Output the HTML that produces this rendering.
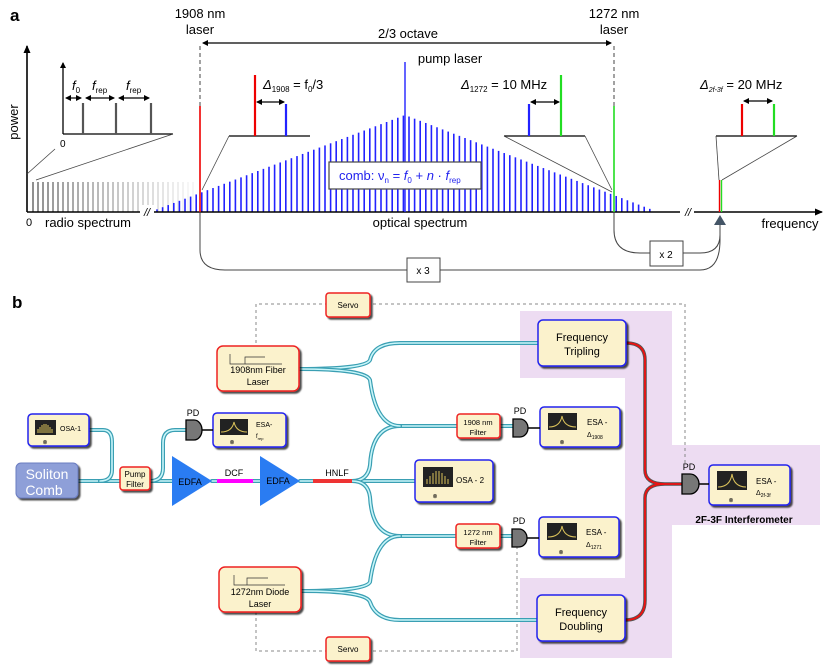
<!DOCTYPE html>
<html><head><meta charset="utf-8"><style>
body{margin:0;background:#fff}
svg{display:block;font-family:"Liberation Sans",sans-serif}
</style></head><body>
<svg id="s" width="830" height="668" viewBox="0 0 830 668" xmlns="http://www.w3.org/2000/svg">
<defs>
<marker id="ah" markerWidth="8" markerHeight="8" refX="7" refY="4" orient="auto" markerUnits="userSpaceOnUse"><path d="M0,0.5 L8,4 L0,7.5z" fill="#000"/></marker>
<marker id="ahs" markerWidth="6" markerHeight="6" refX="5" refY="3" orient="auto-start-reverse" markerUnits="userSpaceOnUse"><path d="M0,0 L6,3 L0,6z" fill="#000"/></marker>
<filter id="sh" x="-10%" y="-10%" width="130%" height="140%"><feDropShadow dx="2" dy="2" stdDeviation="0.8" flood-color="#000" flood-opacity="0.7"/></filter>
</defs>
<text x="10" y="21" font-size="17" font-weight="bold">a</text>
<g id="combs"></g>
<line x1="27" y1="212" x2="822" y2="212" stroke="#000" stroke-width="1.6" marker-end="url(#ah)"/>
<line x1="27" y1="212" x2="27" y2="46" stroke="#000" stroke-width="1.6" marker-end="url(#ah)"/>
<rect x="140" y="205" width="14" height="14" fill="#fff"/>
<text x="147" y="216" font-size="11" text-anchor="middle" font-style="italic">//</text>
<rect x="680" y="205" width="14" height="14" fill="#fff"/>
<text x="688" y="216" font-size="11" text-anchor="middle" font-style="italic">//</text>
<text transform="translate(18,122) rotate(-90)" font-size="13" text-anchor="middle">power</text>
<text x="26" y="226" font-size="11">0</text>
<text x="88" y="227" font-size="13" text-anchor="middle">radio spectrum</text>
<text x="420" y="227" font-size="13" text-anchor="middle">optical spectrum</text>
<text x="790" y="228" font-size="13" text-anchor="middle">frequency</text>
<line x1="200" y1="46" x2="200" y2="106" stroke="#444" stroke-width="1" stroke-dasharray="4,3"/>
<line x1="614" y1="46" x2="614" y2="106" stroke="#444" stroke-width="1" stroke-dasharray="4,3"/>
<line x1="200" y1="106" x2="200" y2="212" stroke="#e00" stroke-width="1.6"/>
<line x1="614" y1="106" x2="614" y2="212" stroke="#2d2" stroke-width="1.6"/>
<line x1="405" y1="62" x2="405" y2="212" stroke="#22f" stroke-width="1.4"/>
<line x1="203" y1="43" x2="611" y2="43" stroke="#000" stroke-width="1.3" marker-start="url(#ahs)" marker-end="url(#ahs)"/>
<text x="408" y="38" font-size="13" text-anchor="middle">2/3 octave</text>
<text x="200" y="18" font-size="13" text-anchor="middle">1908 nm</text>
<text x="200" y="34" font-size="13" text-anchor="middle">laser</text>
<text x="614" y="18" font-size="13" text-anchor="middle">1272 nm</text>
<text x="614" y="34" font-size="13" text-anchor="middle">laser</text>
<text x="450" y="63" font-size="13" text-anchor="middle">pump laser</text>
<line x1="63" y1="134" x2="63" y2="63" stroke="#000" stroke-width="1.3" marker-end="url(#ahs)"/>
<line x1="63" y1="134" x2="173" y2="134" stroke="#000" stroke-width="1.3"/>
<g stroke="#555" stroke-width="2.2"><line x1="83" y1="103" x2="83" y2="134"/><line x1="116" y1="103" x2="116" y2="134"/><line x1="151" y1="103" x2="151" y2="134"/></g>
<g stroke="#000" stroke-width="1.2"><line x1="66" y1="98" x2="81" y2="98" marker-start="url(#ahs)" marker-end="url(#ahs)"/><line x1="86" y1="98" x2="114" y2="98" marker-start="url(#ahs)" marker-end="url(#ahs)"/><line x1="119" y1="98" x2="149" y2="98" marker-start="url(#ahs)" marker-end="url(#ahs)"/></g>
<text x="72" y="90" font-size="13" font-style="italic">f<tspan font-size="8" font-style="normal" dy="3">0</tspan></text>
<text x="92" y="90" font-size="13" font-style="italic">f<tspan font-size="8" font-style="normal" dy="3">rep</tspan></text>
<text x="126" y="90" font-size="13" font-style="italic">f<tspan font-size="8" font-style="normal" dy="3">rep</tspan></text>
<text x="60" y="147" font-size="10">0</text>
<line x1="27" y1="174" x2="55" y2="149" stroke="#444" stroke-width="0.8"/>
<line x1="36" y1="180" x2="173" y2="134" stroke="#444" stroke-width="0.8"/>
<line x1="229" y1="136" x2="310" y2="136" stroke="#000" stroke-width="1.3"/>
<line x1="255" y1="75" x2="255" y2="136" stroke="#e00" stroke-width="2.2"/>
<line x1="286" y1="104" x2="286" y2="136" stroke="#22f" stroke-width="2.2"/>
<line x1="257" y1="102" x2="284" y2="102" stroke="#000" stroke-width="1.3" marker-start="url(#ahs)" marker-end="url(#ahs)"/>
<text x="263" y="89" font-size="13"><tspan font-style="italic">Δ</tspan><tspan font-size="8" dy="3">1908</tspan><tspan dy="-3"> = f</tspan><tspan font-size="8" dy="3">0</tspan><tspan dy="-3">/3</tspan></text>
<line x1="229" y1="136" x2="202" y2="190" stroke="#444" stroke-width="0.8"/>
<rect x="329" y="162" width="152" height="27" fill="#fff" stroke="#444" stroke-width="1.2"/>
<text x="339" y="180" font-size="13" fill="#22e">comb:  ν<tspan font-size="8" dy="3">n</tspan><tspan dy="-3"> = </tspan><tspan font-style="italic">f</tspan><tspan font-size="8" dy="3">0</tspan><tspan dy="-3"> + </tspan><tspan font-style="italic">n</tspan> · <tspan font-style="italic">f</tspan><tspan font-size="8" dy="3">rep</tspan></text>
<line x1="504" y1="136" x2="585" y2="136" stroke="#000" stroke-width="1.3"/>
<line x1="529" y1="104" x2="529" y2="136" stroke="#22f" stroke-width="2.2"/>
<line x1="561" y1="75" x2="561" y2="136" stroke="#2d2" stroke-width="2.2"/>
<line x1="531" y1="102" x2="559" y2="102" stroke="#000" stroke-width="1.3" marker-start="url(#ahs)" marker-end="url(#ahs)"/>
<text x="461" y="89" font-size="13"><tspan font-style="italic">Δ</tspan><tspan font-size="8" dy="3">1272</tspan><tspan dy="-3"> = 10 MHz</tspan></text>
<line x1="504" y1="136" x2="612" y2="192" stroke="#444" stroke-width="0.8"/>
<line x1="585" y1="136" x2="612" y2="190" stroke="#444" stroke-width="0.8"/>
<line x1="716" y1="136" x2="797" y2="136" stroke="#000" stroke-width="1.3"/>
<line x1="742" y1="104" x2="742" y2="136" stroke="#e00" stroke-width="2.2"/>
<line x1="774" y1="104" x2="774" y2="136" stroke="#2d2" stroke-width="2.2"/>
<line x1="744" y1="101" x2="772" y2="101" stroke="#000" stroke-width="1.3" marker-start="url(#ahs)" marker-end="url(#ahs)"/>
<text x="700" y="89" font-size="13"><tspan font-style="italic">Δ</tspan><tspan font-size="7" dy="3" font-style="italic">2f-3f</tspan><tspan dy="-3"> = 20 MHz</tspan></text>
<line x1="716" y1="136" x2="719" y2="180" stroke="#444" stroke-width="0.8"/>
<line x1="797" y1="136" x2="722" y2="180" stroke="#444" stroke-width="0.8"/>
<line x1="719.5" y1="180" x2="719.5" y2="212" stroke="#e00" stroke-width="1.4"/>
<line x1="721.5" y1="180" x2="721.5" y2="212" stroke="#2d2" stroke-width="1.4"/>
<path d="M200,212 V250 Q200,270 225,270 H700 Q720,270 720,240 V222" fill="none" stroke="#444" stroke-width="1"/>
<path d="M614,212 V230 Q614,253 640,253 H700 Q720,253 720,235" fill="none" stroke="#444" stroke-width="1"/>
<path d="M714,225 L720,215 L726,225z" fill="#456"/>
<rect x="650" y="241" width="33" height="25" fill="#fff" stroke="#444"/>
<text x="666" y="258" font-size="10" text-anchor="middle">x 2</text>
<rect x="407" y="258" width="33" height="24" fill="#fff" stroke="#444"/>
<text x="423" y="274" font-size="10" text-anchor="middle">x 3</text>

<text x="12" y="308" font-size="17" font-weight="bold">b</text>
<path d="M520,311 H672 V445 H820 V525 H672 V658 H520 V578 H625 V378 H520Z" fill="#eddcf2"/>
<g fill="none" stroke="#888" stroke-width="1" stroke-dasharray="3,3">
<path d="M256,343 V304 H685 V465"/>
<path d="M256,612 V651 H517 V540"/>
</g>
<g id="fib" fill="none" stroke-linecap="round"></g>
<line x1="217" y1="481" x2="253" y2="481" stroke="#f0f" stroke-width="4"/>
<line x1="313" y1="481" x2="352" y2="481" stroke="#e33" stroke-width="4"/>
<g fill="none">
<path d="M626,343 Q645,343 645,360 V470 Q645,484 665,484 H684 M625,620 Q645,620 645,600 V498 Q645,484 665,484" stroke="#555" stroke-width="3.5"/>
<path d="M626,343 Q645,343 645,360 V470 Q645,484 665,484 H684 M625,620 Q645,620 645,600 V498 Q645,484 665,484" stroke="#e11" stroke-width="1.8"/>
</g>
<g filter="url(#sh)">
<rect x="16" y="463" width="62" height="35" rx="5" fill="#8e9fd8" stroke="#6a7cc0"/>
<rect x="28" y="414" width="61" height="32" rx="4" fill="#fbf2cc" stroke="#22e" stroke-width="1.5"/>
<rect x="120" y="467" width="30" height="23" rx="3" fill="#fbf2cc" stroke="#e22" stroke-width="1.5"/>
<rect x="213" y="413" width="73" height="34" rx="4" fill="#fbf2cc" stroke="#22e" stroke-width="1.5"/>
<rect x="217" y="346" width="82" height="45" rx="6" fill="#fbf2cc" stroke="#e22" stroke-width="1.5"/>
<rect x="219" y="567" width="82" height="45" rx="6" fill="#fbf2cc" stroke="#e22" stroke-width="1.5"/>
<rect x="326" y="293" width="44" height="24" rx="3" fill="#fbf2cc" stroke="#e22" stroke-width="1.5"/>
<rect x="326" y="637" width="44" height="24" rx="3" fill="#fbf2cc" stroke="#e22" stroke-width="1.5"/>
<rect x="457" y="414" width="43" height="24" rx="3" fill="#fbf2cc" stroke="#e22" stroke-width="1.5"/>
<rect x="456" y="524" width="44" height="24" rx="3" fill="#fbf2cc" stroke="#e22" stroke-width="1.5"/>
<rect x="540" y="407" width="80" height="40" rx="4" fill="#fbf2cc" stroke="#22e" stroke-width="1.5"/>
<rect x="539" y="517" width="80" height="40" rx="4" fill="#fbf2cc" stroke="#22e" stroke-width="1.5"/>
<rect x="415" y="460" width="78" height="42" rx="4" fill="#fbf2cc" stroke="#22e" stroke-width="1.5"/>
<rect x="538" y="320" width="88" height="46" rx="5" fill="#fbf2cc" stroke="#22e" stroke-width="1.5"/>
<rect x="537" y="595" width="88" height="46" rx="5" fill="#fbf2cc" stroke="#22e" stroke-width="1.5"/>
<rect x="709" y="465" width="81" height="40" rx="4" fill="#fbf2cc" stroke="#22e" stroke-width="1.5"/>
</g>
<text x="47" y="479" font-size="14" fill="#fff" text-anchor="middle">Soliton</text>
<text x="44" y="495" font-size="14" fill="#fff" text-anchor="middle">Comb</text>
<text x="135" y="477" font-size="8" text-anchor="middle">Pump</text>
<text x="135" y="487" font-size="8" text-anchor="middle">Filter</text>
<text x="258" y="373" font-size="9" text-anchor="middle">1908nm Fiber</text>
<text x="258" y="385" font-size="9" text-anchor="middle">Laser</text>
<text x="260" y="595" font-size="9" text-anchor="middle">1272nm Diode</text>
<text x="260" y="607" font-size="9" text-anchor="middle">Laser</text>
<text x="348" y="308" font-size="8" text-anchor="middle">Servo</text>
<text x="348" y="652" font-size="8" text-anchor="middle">Servo</text>
<text x="478" y="425" font-size="7.5" text-anchor="middle">1908 nm</text>
<text x="478" y="435" font-size="7.5" text-anchor="middle">Filter</text>
<text x="478" y="535" font-size="7.5" text-anchor="middle">1272 nm</text>
<text x="478" y="545" font-size="7.5" text-anchor="middle">Filter</text>
<text x="582" y="341" font-size="11" text-anchor="middle">Frequency</text>
<text x="582" y="355" font-size="11" text-anchor="middle">Tripling</text>
<text x="581" y="616" font-size="11" text-anchor="middle">Frequency</text>
<text x="581" y="630" font-size="11" text-anchor="middle">Doubling</text>
<text x="744" y="523" font-size="10" font-weight="bold" text-anchor="middle">2F-3F Interferometer</text>
<g fill="#222">
<rect x="35" y="420" width="21" height="15"/>
<rect x="220" y="419" width="28" height="16"/>
<rect x="548" y="413" width="29" height="17"/>
<rect x="547" y="523" width="30" height="17"/>
<rect x="423" y="467" width="30" height="20"/>
<rect x="717" y="471" width="30" height="19"/>
</g>
<g fill="none" stroke="#d9c15a" stroke-width="1">
<path d="M221,432 Q232,432 234,422 Q236,432 247,432"/>
<path d="M549,427 Q560,427 562,416 Q564,427 576,427"/>
<path d="M548,537 Q560,537 562,526 Q564,537 576,537"/>
<path d="M718,487 Q730,487 732,474 Q734,487 746,487"/>
</g>
<g stroke="#d9c15a" stroke-width="1"><path d="M38,433V429M40,433V427M42,433V425M44,433V424M46,433V424M48,433V425M50,433V427M52,433V429"/>
<path d="M427,484V479M430,484V476M433,484V473M436,484V471M439,484V471M442,484V473M445,484V476M448,484V479"/></g>
<g font-size="6" text-anchor="middle"><text x="45" y="444">⊗</text><text x="232" y="444">⊗</text><text x="562" y="444">⊗</text><text x="561" y="554">⊗</text><text x="435" y="498">⊗</text><text x="731" y="502">⊗</text></g>
<text x="60" y="431" font-size="7">OSA-1</text>
<text x="256" y="427" font-size="7">ESA-</text><text x="256" y="438" font-size="6">f<tspan font-size="4" dy="2">rep</tspan></text>
<text x="587" y="425" font-size="8">ESA -</text><text x="587" y="437" font-size="7">Δ<tspan font-size="5" dy="2">1908</tspan></text>
<text x="586" y="535" font-size="8">ESA -</text><text x="586" y="547" font-size="7">Δ<tspan font-size="5" dy="2">1271</tspan></text>
<text x="456" y="483" font-size="8">OSA - 2</text>
<text x="756" y="484" font-size="8">ESA -</text><text x="756" y="495" font-size="7">Δ<tspan font-size="5" dy="2">2f-3f</tspan></text>
<g stroke="#333" stroke-width="0.7" fill="none">
<path d="M230,354 V364 H282"/><path d="M245,364 V357 H265"/>
<path d="M234,575 V585 H285"/><path d="M247,585 V578 H268"/>
</g>
<path d="M172,456 L212,481 L172,506Z" fill="#2a7cf2"/>
<path d="M260,456 L300,481 L260,506Z" fill="#2a7cf2"/>
<text x="190" y="485" font-size="9" text-anchor="middle">EDFA</text>
<text x="278" y="484" font-size="9" text-anchor="middle">EDFA</text>
<text x="234" y="476" font-size="9" text-anchor="middle">DCF</text>
<text x="337" y="476" font-size="9" text-anchor="middle">HNLF</text>
<g fill="#777" stroke="#000" stroke-width="1.3">
<path d="M186,420 H194 A8,10 0 0 1 194,440 H186Z"/>
<path d="M513,419 H520 A8,9 0 0 1 520,437 H513Z"/>
<path d="M512,529 H519 A8,9 0 0 1 519,547 H512Z"/>
<path d="M682,474 H690 A9,10 0 0 1 690,494 H682Z"/>
</g>
<g stroke="#000" stroke-width="1.5"><line x1="202" y1="430" x2="213" y2="430"/><line x1="528" y1="428" x2="540" y2="428"/><line x1="527" y1="538" x2="539" y2="538"/><line x1="699" y1="484" x2="709" y2="484"/></g>
<text x="193" y="416" font-size="9" text-anchor="middle">PD</text>
<text x="520" y="414" font-size="9" text-anchor="middle">PD</text>
<text x="519" y="524" font-size="9" text-anchor="middle">PD</text>
<text x="689" y="470" font-size="9" text-anchor="middle">PD</text>
</svg>
<script>
var NS="http://www.w3.org/2000/svg",g=document.getElementById("combs");
function L(x1,y1,x2,y2,c,w,o){var l=document.createElementNS(NS,"line");l.setAttribute("x1",x1);l.setAttribute("y1",y1);l.setAttribute("x2",x2);l.setAttribute("y2",y2);l.setAttribute("stroke",c);l.setAttribute("stroke-width",w);if(o!=null)l.setAttribute("stroke-opacity",o);g.appendChild(l);}
for(var x=33;x<=197;x+=5){L(x,182,x,212,"#555",1.3,Math.max(0.08,1-(x-33)/170));}
for(var x=157;x<=655;x+=5.6){var h;if(x<405)h=(x-150)/(405-150)*97;else h=(658-x)/(658-405)*97;if(h<2)h=2;L(x,212-h,x,212,"#22f",1.6);}
var f=document.getElementById("fib");
var P=["M78,481 H120","M89,430 H103 Q112,430 112,442 V470 Q112,481 100,481","M150,481 H172","M150,481 Q163,481 163,468 V443 Q163,430 175,430 H186","M212,481 H217","M253,481 H260","M300,481 H313","M352,481 H415",
"M352,481 Q368,481 370,465 Q372,426 400,426 H457","M352,481 Q368,481 370,497 Q372,536 400,536 H456",
"M299,369 Q366,369 370,360 Q374,343 400,343 H538","M299,369 Q366,369 370,380 Q376,426 400,426",
"M301,591 Q366,591 370,582 Q376,536 400,536","M301,591 Q366,591 370,602 Q376,620 400,620 H537",
"M500,426 H513","M500,536 H512"];
P.forEach(function(d){[["#3a9fb3",4],["#c9f6fa",1.6]].forEach(function(s){var p=document.createElementNS(NS,"path");p.setAttribute("d",d);p.setAttribute("stroke",s[0]);p.setAttribute("stroke-width",s[1]);f.appendChild(p);});});
</script>
</body></html>
